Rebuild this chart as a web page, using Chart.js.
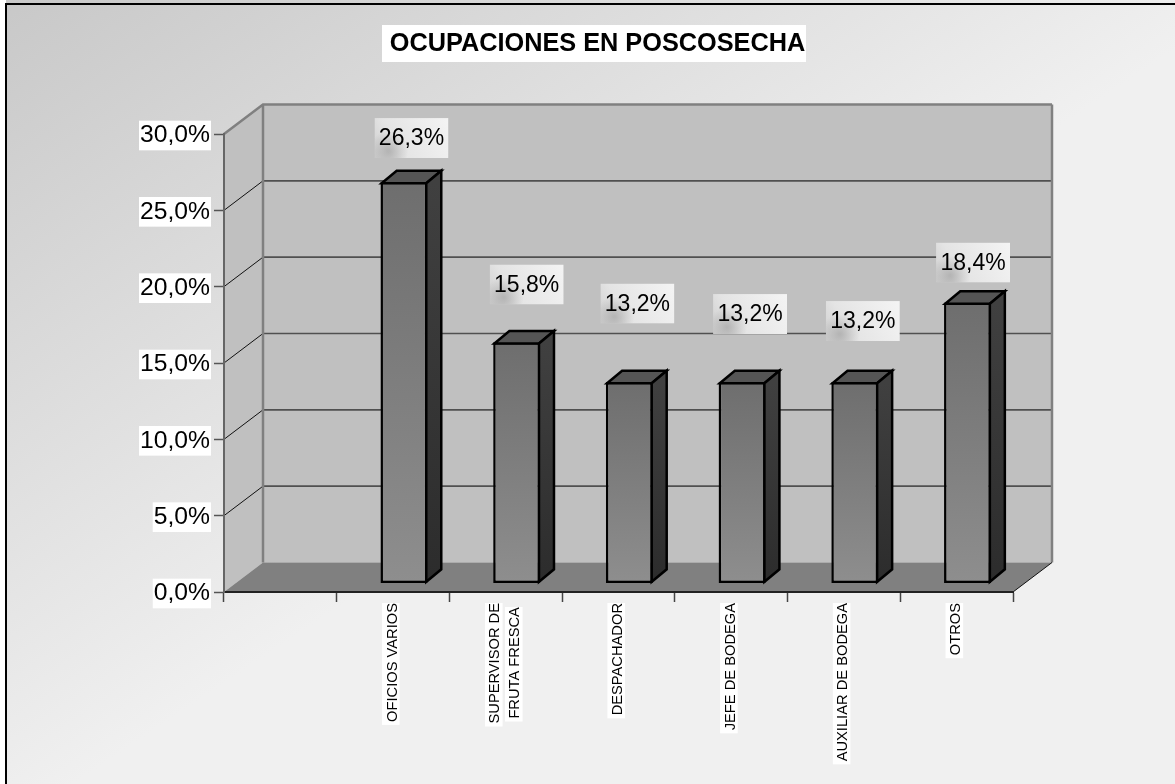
<!DOCTYPE html>
<html><head><meta charset="utf-8">
<style>html,body{margin:0;padding:0;background:#fff}canvas{display:block}</style>
<script src="https://cdn.jsdelivr.net/npm/chart.js@4/dist/chart.umd.min.js"></script>
</head><body><canvas id="c" width="1175" height="784"></canvas>
<script>
const titleText = 'OCUPACIONES EN POSCOSECHA';
const categories = ['', 'OFICIOS VARIOS', ['SUPERVISOR DE', 'FRUTA FRESCA '], 'DESPACHADOR', 'JEFE DE BODEGA', 'AUXILIAR DE BODEGA', 'OTROS'];
const shares = [null, 26.3, 15.8, 13.2, 13.2, 13.2, 18.4];
const yMin = 0, yMax = 30, yStep = 5;
// hand placement of the value labels, as in the reference
const labelShiftX = [0, 7.5, 10, 8, 8, 8, 5.5];
const labelLift = [0, 52.4, 66.3, 86.9, 76.4, 69.4, 48.5];

const fmt = v => v.toFixed(1).replace('.', ',') + '%';
const FONT = '"Liberation Sans", Arial, sans-serif';
const AREA = {left: 224, right: 1013, top: 134, bottom: 592};
const WALL = {dx: 39, dy: -29.5};      // front plane to back wall
const BAR = {dx: 10.9, dy: -8.5, depthX: 15, depthY: -12.5};
const XFONT = 14.7, XLINE = 1.36, XOFFSET = -0.5, XMULTI = -10;

const scene = {
  id: 'scene',
  afterLayout(chart) {
    const t = chart.titleBlock;
    t.left += 91; t.right += 91;
  },
  beforeDraw(chart) {
    const c = chart.ctx, y = chart.scales.y, x = chart.scales.x;
    const {left: L, right: R, top: T, bottom: B} = chart.chartArea;
    const bx = L + WALL.dx, rx = R + WALL.dx, by = B + WALL.dy, ty = T + WALL.dy;
    c.save();
    c.fillStyle = '#fff'; c.fillRect(0, 0, 1175, 784);
    const g = c.createLinearGradient(0, 0, 385, 577);
    g.addColorStop(0, '#c8c8c8'); g.addColorStop(1, '#f0f0f0');
    c.fillStyle = g; c.fillRect(6, 0, 1169, 784);
    c.fillStyle = '#000'; c.fillRect(5, 3, 1170, 2); c.fillRect(5, 3, 2, 781);
    // title plate
    c.fillStyle = '#fff'; c.fillRect(382, 25, 424, 37);
    // white plates behind category labels, one per line
    c.font = XFONT + 'px ' + FONT;
    categories.forEach((lab, i) => {
      if (!lab) return;
      const lines = Array.isArray(lab) ? lab : [lab];
      const px = x.getPixelForTick(i);
      lines.forEach((ln, k) => {
        const cx = lines.length === 1 ? px - 2.3 : px - 12 + k * 20;
        const w = c.measureText(ln.trim()).width;
        const top = k === 1 ? 607 : 603;
        c.fillRect(cx - 8.8, top, 17.6, w + 3);
      });
    });
    // shift the two-line label so that its lines straddle the slot centre
    x.getLabelItems().forEach(it => {
      if (Array.isArray(it.label) && !it._moved) { it.options.translation[0] += XMULTI; it._moved = true; }
    });
    // walls
    c.fillStyle = '#c0c0c0';
    c.fillRect(bx, ty, rx - bx, by - ty);
    c.beginPath(); c.moveTo(L, T); c.lineTo(bx, ty); c.lineTo(bx, by); c.lineTo(L, B); c.closePath(); c.fill();
    // floor
    c.fillStyle = '#808080';
    c.beginPath(); c.moveTo(L, B); c.lineTo(bx, by); c.lineTo(rx, by); c.lineTo(R, B); c.closePath(); c.fill();
    // gridlines
    y.ticks.forEach(t => {
      if (t.value === yMin || t.value === yMax) return;
      const p = y.getPixelForValue(t.value);
      c.strokeStyle = '#505050'; c.lineWidth = 1.6;
      c.beginPath(); c.moveTo(bx, p + WALL.dy); c.lineTo(rx, p + WALL.dy); c.stroke();
      c.strokeStyle = '#111'; c.lineWidth = 1;
      c.beginPath(); c.moveTo(L, p); c.lineTo(bx, p + WALL.dy); c.stroke();
    });
    // wall edges
    c.strokeStyle = '#808080'; c.lineWidth = 2.5;
    c.beginPath(); c.moveTo(L, T); c.lineTo(bx, ty); c.lineTo(rx, ty); c.moveTo(bx, ty); c.lineTo(bx, by); c.moveTo(rx, ty); c.lineTo(rx, by); c.stroke();
    c.strokeStyle = '#111'; c.lineWidth = 1;
    c.beginPath(); c.moveTo(R, B); c.lineTo(rx, by); c.stroke();
    c.restore();
  },
  beforeDatasetsDraw(chart) {
    chart.ctx.save();
    chart.ctx.translate(BAR.dx, BAR.dy);
  },
  afterDatasetsDraw(chart) {
    const c = chart.ctx;
    c.restore();
    const y = chart.scales.y;
    chart.getDatasetMeta(0).data.forEach((b, i) => {
      if (shares[i] == null) return;
      const x0 = b.x - b.width / 2 + BAR.dx + 1.2, x1 = b.x + b.width / 2 + BAR.dx - 1.2;
      const yt = b.y + BAR.dy + 1.2, yb = b.base + BAR.dy - 1.2;
      const dx = BAR.depthX, dy = BAR.depthY;
      c.save();
      c.lineWidth = 2.5; c.strokeStyle = '#000'; c.lineJoin = 'miter';
      c.fillStyle = '#555';
      c.beginPath(); c.moveTo(x0, yt); c.lineTo(x0 + dx, yt + dy); c.lineTo(x1 + dx, yt + dy); c.lineTo(x1, yt); c.closePath(); c.fill(); c.stroke();
      const s = c.createLinearGradient(0, yt, 0, yb);
      s.addColorStop(0, '#404040'); s.addColorStop(1, '#2c2c2c');
      c.fillStyle = s;
      c.beginPath(); c.moveTo(x1, yt); c.lineTo(x1 + dx, yt + dy); c.lineTo(x1 + dx, yb + dy); c.lineTo(x1, yb); c.closePath(); c.fill(); c.stroke();
      c.restore();
      // value label
      const cx = b.x + BAR.dx + labelShiftX[i], cy = y.getPixelForValue(shares[i]) - labelLift[i];
      const w = 74, h = 40, lx = cx - w / 2, ly = cy - h / 2;
      c.save();
      c.beginPath(); c.rect(lx, ly, w, h); c.clip();
      const lg = c.createLinearGradient(lx, ly + h, lx + w, ly);
      lg.addColorStop(0, '#cfcfcf'); lg.addColorStop(.3, '#e4e4e4'); lg.addColorStop(1, '#f4f4f4');
      c.fillStyle = lg; c.fillRect(lx, ly, w, h);
      const r = c.createRadialGradient(lx + 14, ly + 33, 1, lx + 14, ly + 33, 20);
      r.addColorStop(0, 'rgba(165,165,165,.7)'); r.addColorStop(1, 'rgba(165,165,165,0)');
      c.fillStyle = r; c.fillRect(lx, ly, w, h);
      c.fillStyle = '#000'; c.font = '23px ' + FONT; c.textAlign = 'center'; c.textBaseline = 'middle';
      c.fillText(fmt(shares[i]), cx, cy + 1);
      c.restore();
    });
  }
};

function frontFill(ctx) {
  const ys = ctx.chart.scales.y, v = ctx.raw;
  if (!ys || v == null) return '#777';
  const g = ctx.chart.ctx.createLinearGradient(0, ys.getPixelForValue(v), 0, ys.getPixelForValue(0));
  g.addColorStop(0, '#6e6e6e'); g.addColorStop(1, '#8e8e8e');
  return g;
}

new Chart(document.getElementById('c'), {
  type: 'bar',
  data: {labels: categories, datasets: [{
    data: shares, backgroundColor: frontFill, borderColor: '#000', borderWidth: 2.5, borderSkipped: false,
    barPercentage: 0.417, categoryPercentage: 1
  }]},
  plugins: [scene],
  options: {
    responsive: false, animation: false, events: [],
    layout: {padding: {left: 0, right: 1175 - AREA.right, top: 0, bottom: 0}},
    plugins: {
      legend: {display: false}, tooltip: {enabled: false},
      title: {display: true, text: titleText, color: '#000', fullSize: true,
        font: {family: FONT, size: 25.3, weight: 'bold', lineHeight: 1.2},
        padding: {top: 29, bottom: AREA.top - 29 - 30.36}}
    },
    scales: {
      x: {
        afterFit: s => { s.height = 784 - AREA.bottom; },
        grid: {drawOnChartArea: false, drawTicks: true, tickLength: 10, tickColor: '#444', tickWidth: 1.5},
        border: {color: '#222', width: 2},
        ticks: {autoSkip: false, minRotation: 90, maxRotation: 90, color: '#000', padding: 1,
          labelOffset: XOFFSET,
          font: {family: FONT, size: XFONT, lineHeight: XLINE}}
      },
      y: {
        min: yMin, max: yMax,
        afterFit: s => { s.width = AREA.left; },
        grid: {drawOnChartArea: false, drawTicks: true, tickLength: 10, tickColor: '#555', tickWidth: 1.5},
        border: {color: '#666', width: 2},
        ticks: {stepSize: yStep, color: '#000', padding: 4, labelOffset: 1.5, callback: v => fmt(v),
          font: {family: FONT, size: 24.7, lineHeight: 1.2},
          showLabelBackdrop: true, backdropColor: '#fff', backdropPadding: {left: 1, right: 1, top: 0, bottom: 0}}
      }
    }
  }
});
</script></body></html>
